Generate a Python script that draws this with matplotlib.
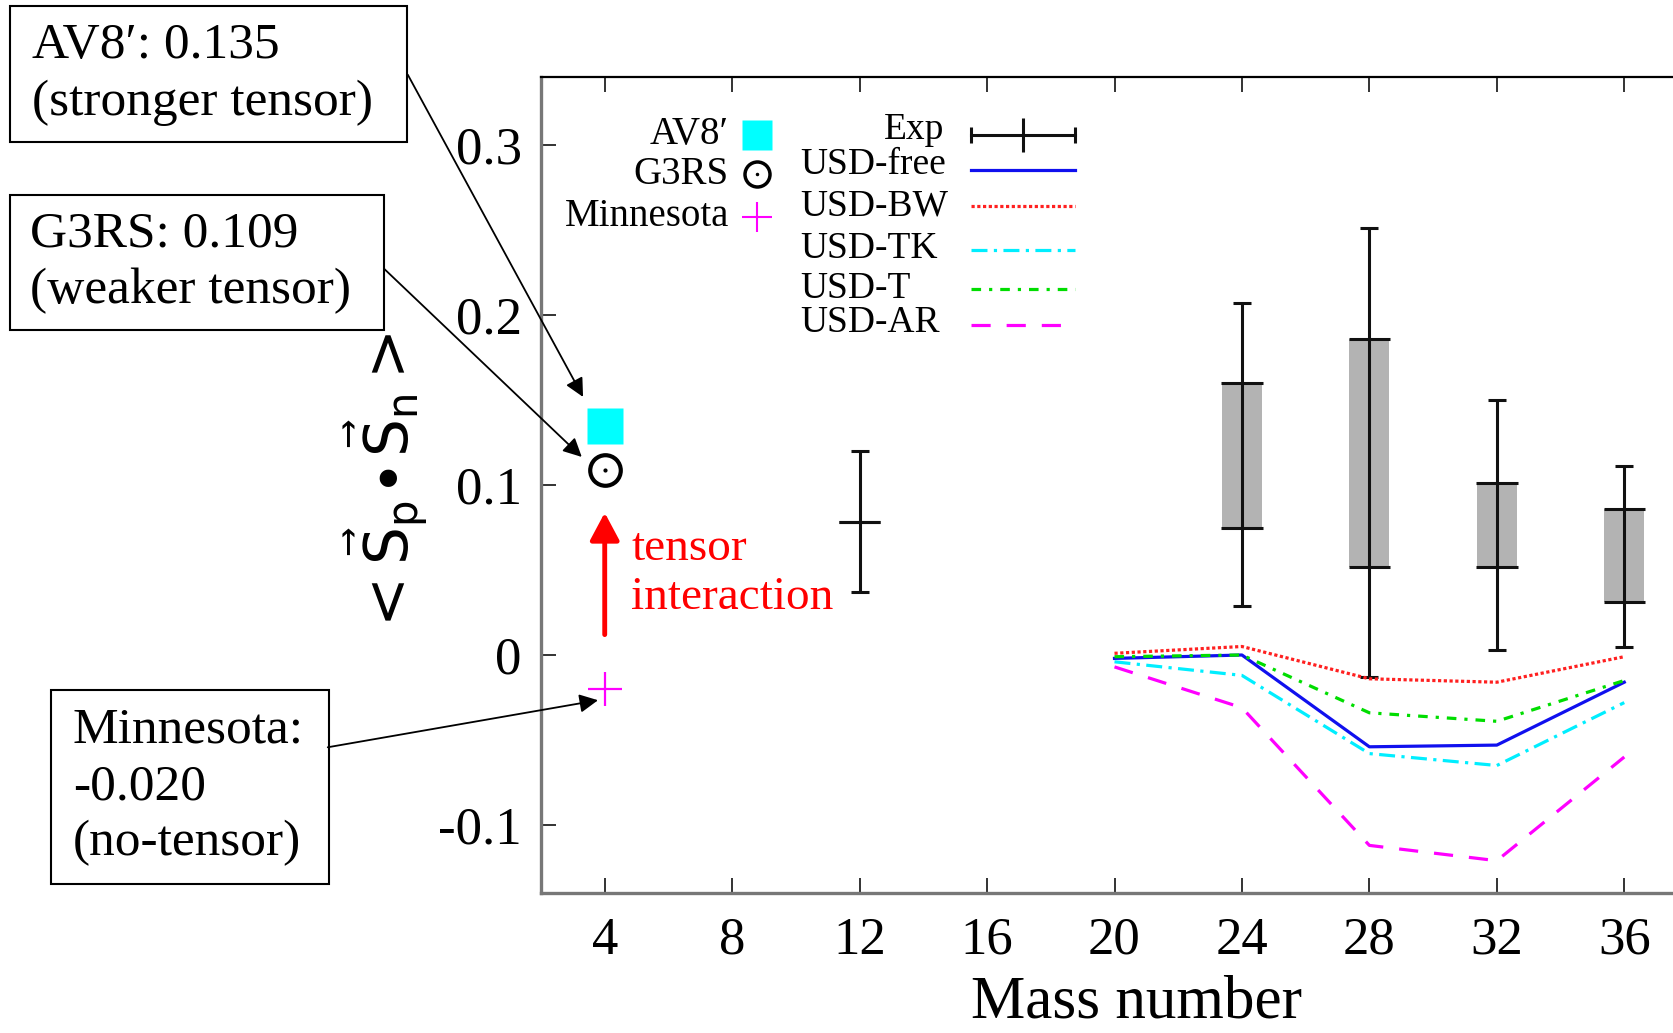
"""
Spin-spin correlation <Sp . Sn> versus mass number: exp. ranges vs USD shell-model lines.
Writes out.png.
"""

import matplotlib.pyplot as plt
from matplotlib.patches import Rectangle

plt.rcParams["font.family"] = ["Liberation Serif", "DejaVu Serif"]
plt.rcParams["mathtext.fontset"] = "dejavusans"

# experimental values: whisker range and shaded box range
exp_A = [12, 24, 28, 32, 36]
exp_whisk_lo = [0.037, 0.029, -0.013, 0.003, 0.005]
exp_whisk_hi = [0.120, 0.207, 0.251, 0.150, 0.111]
exp_box_lo = [0.078, 0.075, 0.052, 0.052, 0.031]
exp_box_hi = [0.078, 0.160, 0.186, 0.101, 0.086]

# shell-model lines (sd shell)
usd_A = [20, 24, 28, 32, 36]
usd_free = [-0.002, 0.000, -0.054, -0.053, -0.016]
usd_bw = [0.001, 0.005, -0.014, -0.016, -0.001]
usd_tk = [-0.004, -0.012, -0.058, -0.065, -0.028]
usd_t = [-0.001, 0.000, -0.034, -0.039, -0.015]
usd_ar = [-0.007, -0.031, -0.112, -0.121, -0.060]

# A = 4 interaction results
av8_val = 0.135
g3rs_val = 0.109
minn_val = -0.020

series = [
    ("USD-free", usd_free, "#1010ee", "-"),
    ("USD-BW", usd_bw, "#ff2020", (0, (1, 0.8))),
    ("USD-TK", usd_tk, "#00eeff", (0, (5, 2, 1, 2))),
    ("USD-T", usd_t, "#00dd00", (0, (3, 2.5, 1, 2.5))),
    ("USD-AR", usd_ar, "#ff00ff", (0, (6, 5))),
]

fig = plt.figure(figsize=(16.74, 10.33), dpi=100)
ax = fig.add_axes([541 / 1674, 140 / 1033, 1147 / 1674, 816 / 1033])

# experiment: candlesticks with whisker bars
box_h = [hi - lo for lo, hi in zip(exp_box_lo, exp_box_hi)]
ax.bar(exp_A, box_h, bottom=exp_box_lo, width=1.25, color="#b3b3b3", zorder=2)
ax.vlines(exp_A, exp_whisk_lo, exp_whisk_hi, color="#111111", lw=2.2, zorder=3)
for x, lo, hi in zip(exp_A, exp_whisk_lo, exp_whisk_hi):
    ax.hlines([lo, hi], x - 0.28, x + 0.28, color="#111111", lw=2.2, zorder=3)
for x, lo, hi in zip(exp_A, exp_box_lo, exp_box_hi):
    ax.hlines([lo, hi], x - 0.65, x + 0.65, color="#111111", lw=2.2, zorder=3)

for name, ys, col, ls in series:
    ax.plot(usd_A, ys, color=col, ls=ls, lw=2.3, zorder=4)

ax.plot([4], [av8_val], "s", color="#00ffff", ms=26, mec="none", zorder=5)
ax.plot([4], [g3rs_val], "o", mfc="none", mec="black", ms=22, mew=3, zorder=5)
ax.plot([4], [g3rs_val], ".", color="black", ms=4, zorder=5)
ax.plot([4], [minn_val], "+", color="#ff00ff", ms=24, mew=1.6, zorder=5)

# red arrow + label
ax.annotate("", xy=(4, 0.0837), xytext=(4, 0.012),
            arrowprops=dict(arrowstyle="-|>,head_length=0.6,head_width=0.32",
                            color="red", lw=3.5, mutation_scale=28,
                            shrinkA=0, shrinkB=0))
ax.text(4.83, 0.048, "tensor\ninteraction", color="red", fontsize=34,
        ha="left", va="center", linespacing=1.18)

# key (drawn by hand to follow the original layout)
left_labels = ["AV8\u2032", "G3RS", "Minnesota"]
left_y = [0.9295, 0.881, 0.8288]
for lab, y in zip(left_labels, left_y):
    ax.text(0.1639, y, lab, transform=ax.transAxes, fontsize=28,
            ha="right", va="center")
ax.plot(0.1883, left_y[0], "s", color="#00ffff", ms=21, mec="none", transform=ax.transAxes)
ax.plot(0.1883, left_y[1], "o", mfc="none", mec="black", ms=18, mew=2.5, transform=ax.transAxes)
ax.plot(0.1883, left_y[1], ".", color="black", ms=3, transform=ax.transAxes)
ax.plot(0.1883, left_y[2], "+", color="#ff00ff", ms=21, mew=1.5, transform=ax.transAxes)

key_y = [0.8864, 0.8419, 0.7882, 0.7398, 0.6966]
text_y = [0.8929, 0.8419, 0.7895, 0.741, 0.6993]
ax.text(0.3512, 0.9348, "Exp", transform=ax.transAxes, fontsize=27, ha="right", va="center")
kx = [0.3753, 0.4656]
ax.plot(kx, [0.9295, 0.9295], color="#111111", lw=2.2, transform=ax.transAxes)
ax.plot(kx, [0.9295, 0.9295], "|", color="#111111", ms=12, mew=2.2, transform=ax.transAxes)
ax.plot(sum(kx) / 2, 0.9295, "|", color="#111111", ms=25, mew=2.2, transform=ax.transAxes)
for (name, ys, col, ls), ky, ty in zip(series, key_y, text_y):
    ax.text(0.2264, ty, name, transform=ax.transAxes, fontsize=27, ha="left", va="center")
    ax.plot(kx, [ky, ky], color=col, ls=ls, lw=2.3, transform=ax.transAxes)

ax.set_xlim(2, 38)
ax.set_ylim(-0.14, 0.34)
ax.set_xticks([4, 8, 12, 16, 20, 24, 28, 32, 36])
ax.set_yticks([-0.1, 0, 0.1, 0.2, 0.3], labels=["-0.1", "0", "0.1", "0.2", "0.3"])
ax.tick_params(direction="in", top=True, right=True, length=11, width=1.4,
               labelsize=38, pad=14, color="#333333")
ax.tick_params(axis="x", pad=17)
for side in ["left", "bottom"]:
    ax.spines[side].set_color("#777777")
    ax.spines[side].set_linewidth(2.4)
ax.spines["top"].set_linewidth(1.6)

xl = ax.set_xlabel("Mass number", fontsize=44)
xl.set_va("baseline")
ax.xaxis.set_label_coords(0.5196, -0.152)
ax.set_ylabel(r"${<}\vec{\mathsf{S}}_{\mathsf{p}}\!\bullet\!\vec{\mathsf{S}}_{\mathsf{n}}{>}$",
              fontsize=43)
ax.yaxis.set_label_coords(-0.097, 0.5)

# boxed notes on the left with arrows to the A = 4 points
notes = [
    ("AV8\u2032: 0.135\n(stronger tensor)", (0.00573, 0.8625, 0.2373, 0.1313), 0.0191,
     (0.2436, 0.9277), (3.32, 0.1518)),
    ("G3RS: 0.109\n(weaker tensor)", (0.00573, 0.6805, 0.2239, 0.1303), 0.0179,
     (0.2296, 0.7396), (3.28, 0.1165)),
    ("Minnesota:\n-0.020\n(no-tensor)", (0.0306, 0.1442, 0.1658, 0.1881), 0.0434,
     (0.1958, 0.2766), (3.79, -0.0266)),
]
for txt, (bx, by, bw, bh), tx, start, tip in notes:
    fig.patches.append(Rectangle((bx, by), bw, bh, transform=fig.transFigure,
                                 fill=False, ec="black", lw=1.5))
    fig.text(tx, by + bh / 2, txt, fontsize=37, ha="left", va="center", linespacing=1.28)
    ax.annotate("", xy=tip, xycoords="data", xytext=start, textcoords="figure fraction",
                arrowprops=dict(arrowstyle="-|>", color="black", lw=1.3,
                                mutation_scale=28, shrinkA=0, shrinkB=0),
                annotation_clip=False)

fig.savefig("out.png", dpi=100)
